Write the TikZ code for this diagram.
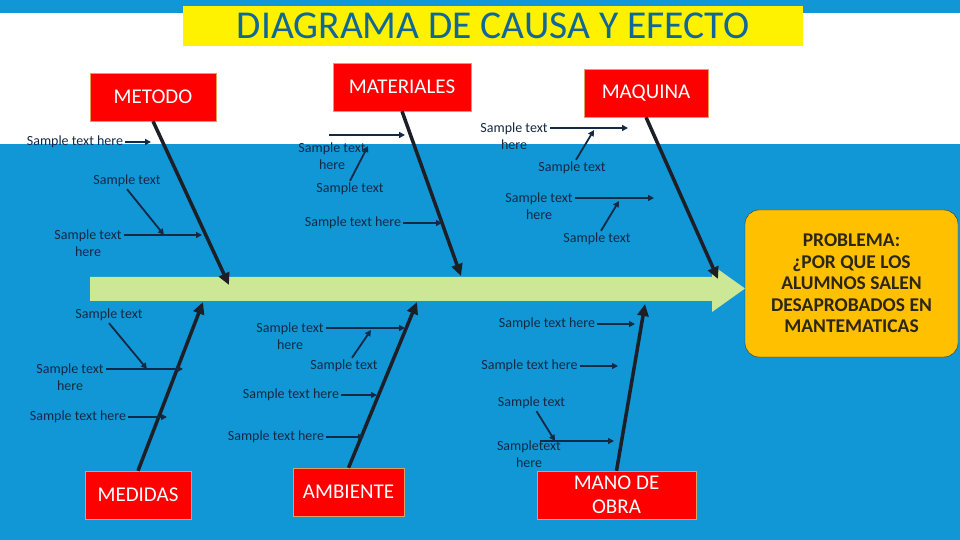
\documentclass[tikz,border=0pt]{standalone}
\usepackage{fontspec}
\setmainfont{Carlito}
\usepackage{xcolor}
\usepackage{tikz}
\usetikzlibrary{arrows.meta}
\definecolor{bgblue}{RGB}{17,150,214}
\definecolor{titleblue}{RGB}{16,104,152}
\definecolor{spinegreen}{RGB}{204,232,150}
\definecolor{probyellow}{RGB}{255,192,0}
\definecolor{probtext}{RGB}{45,38,20}
\definecolor{boxedge}{RGB}{222,160,90}
\definecolor{txtblue}{RGB}{20,42,68}
\definecolor{bonecol}{RGB}{28,32,38}

\begin{document}
\begin{tikzpicture}[x=1pt, y=1pt,
    cause/.style={draw=boxedge, fill=red, text=white, minimum height=48pt, inner sep=0pt,
        font=\fontsize{21}{24}\selectfont, align=center},
    sub/.style={text=txtblue, inner sep=2pt, font=\fontsize{14}{17}\selectfont, align=center},
    bone/.style={draw=bonecol, line width=3.5pt, -{Triangle[length=12pt, width=11pt]}},
    twig/.style={draw=txtblue, line width=1.8pt, -{Triangle[length=6pt, width=6pt]}}]
        \useasboundingbox (0,0) rectangle (960,540);
        \fill[bgblue] (0,0) rectangle (960,540);
        \fill[white] (0,396) rectangle (960,527);
        \node[fill=yellow, minimum width=620pt, minimum height=40pt, inner sep=0pt, text=titleblue,
            font=\fontsize{39.5}{40}\selectfont] (title) at (493,514) {DIAGRAMA DE CAUSA Y EFECTO};
        
        \fill[spinegreen] (90,263) -- (712,263) -- (712,275) -- (745,251.5) -- (712,228) -- (712,239) -- (90,239) -- cycle;
        \node[draw=black!80, fill=probyellow, rounded corners=14pt, minimum width=213pt, minimum height=147pt,
            text=probtext, font=\bfseries\fontsize{19.5}{21.5}\selectfont, align=center] (prob) at (851.5,256.5)
            {PROBLEMA:\\ ¿POR QUE LOS\\ ALUMNOS SALEN\\ DESAPROBADOS EN\\ MANTEMATICAS};
        
        \node[cause, minimum width=126pt] (met) at (153,443) {METODO};
        \node[cause, minimum width=138pt] (mat) at (402,453) {MATERIALES};
        \node[cause, minimum width=124pt] (maq) at (646,447) {MAQUINA};
        \node[cause, minimum width=106pt] (med) at (138,45) {MEDIDAS};
        \node[cause, minimum width=111pt] (amb) at (348.5,48) {AMBIENTE};
        \node[cause, minimum width=159pt] (mob) at (616.5,45) {MANO DE\\OBRA};
        
        \coordinate (metE) at (229,255);
        \coordinate (matE) at (461,264);
        \coordinate (maqE) at (718,261);
        \coordinate (medE) at (203,238);
        \coordinate (ambE) at (417,238);
        \coordinate (mobE) at (645,236);
        \draw[bone] (met.south) -- (metE);
        \draw[bone] (mat.south) -- (matE);
        \draw[bone] (maq.south) -- (maqE);
        \draw[bone] (med.north) -- (medE);
        \draw[bone] (amb.north) -- (ambE);
        \draw[bone] (mob.north) -- (mobE);
        
        \node[sub] (met1) at (75,398) {Sample text here};
        \node[sub] (met2) at (127,359) {Sample text};
        \node[sub] (met3) at (88,297) {Sample text\\here};
        \coordinate (met1E) at (151,398);
        \coordinate (met2E) at (164,305);
        \coordinate (met3E) at (202,305);
        \draw[twig] (met1.east) -- (met1E);
        \draw[twig] (met2.south) -- (met2E);
        \draw[twig] ([yshift=8pt]met3.east) -- (met3E);
        
        \node[sub] (mat1) at (332,383.5) {Sample text\\here};
        \node[sub] (mat2) at (350,351) {Sample text};
        \node[sub] (mat3) at (353,317) {Sample text here};
        \coordinate (mat1S) at (329,405);
        \coordinate (mat1E) at (405,405);
        \coordinate (mat2E) at (368,394);
        \coordinate (mat3E) at (442,317);
        \draw[twig] (mat1S) -- (mat1E);
        \draw[twig] (mat2.north) -- (mat2E);
        \draw[twig] (mat3.east) -- (mat3E);
        
        \node[sub] (maq1) at (514,404) {Sample text\\here};
        \node[sub] (maq2) at (572,372) {Sample text};
        \node[sub] (maq3) at (539,334) {Sample text\\here};
        \node[sub] (maq4) at (597,301) {Sample text};
        \coordinate (maq1E) at (628,412);
        \coordinate (maq2E) at (594,410);
        \coordinate (maq3E) at (654,342);
        \coordinate (maq4E) at (619,339);
        \draw[twig] ([yshift=8pt]maq1.east) -- (maq1E);
        \draw[twig] ([xshift=4pt]maq2.north) -- (maq2E);
        \draw[twig] ([yshift=8pt]maq3.east) -- (maq3E);
        \draw[twig] ([xshift=4pt]maq4.north) -- (maq4E);
        
        \node[sub] (med1) at (109,225) {Sample text};
        \node[sub] (med2) at (70,163) {Sample text\\here};
        \node[sub] (med3) at (78,123) {Sample text here};
        \coordinate (med1E) at (147,171);
        \coordinate (med2E) at (183,171);
        \coordinate (med3E) at (167,123);
        \draw[twig] (med1.south) -- (med1E);
        \draw[twig] ([yshift=8pt]med2.east) -- (med2E);
        \draw[twig] (med3.east) -- (med3E);
        
        \node[sub] (amb1) at (290,204) {Sample text\\here};
        \node[sub] (amb2) at (344,174) {Sample text};
        \node[sub] (amb3) at (291,145) {Sample text here};
        \node[sub] (amb4) at (276,103) {Sample text here};
        \coordinate (amb1E) at (405,212);
        \coordinate (amb2E) at (371,210);
        \coordinate (amb3E) at (377,145);
        \coordinate (amb4E) at (364,103);
        \draw[twig] ([yshift=8pt]amb1.east) -- (amb1E);
        \draw[twig] ([xshift=8pt]amb2.north) -- (amb2E);
        \draw[twig] (amb3.east) -- (amb3E);
        \draw[twig] (amb4.east) -- (amb4E);
        
        \node[sub] (mob1) at (547,216) {Sample text here};
        \node[sub] (mob2) at (529.5,174) {Sample text here};
        \node[sub] (mob3) at (531.5,137) {Sample text};
        \node[sub] (mob4) at (529,85.5) {Sampletext\\here};
        \coordinate (mob1E) at (635,216);
        \coordinate (mob2E) at (618,174);
        \coordinate (mob3E) at (555,99);
        \coordinate (mob4S) at (540,99);
        \coordinate (mob4E) at (614,99);
        \draw[twig] (mob1.east) -- (mob1E);
        \draw[twig] (mob2.east) -- (mob2E);
        \draw[twig] ([xshift=5pt]mob3.south) -- (mob3E);
        \draw[twig] (mob4S) -- (mob4E);
    \end{tikzpicture}
\end{document}
